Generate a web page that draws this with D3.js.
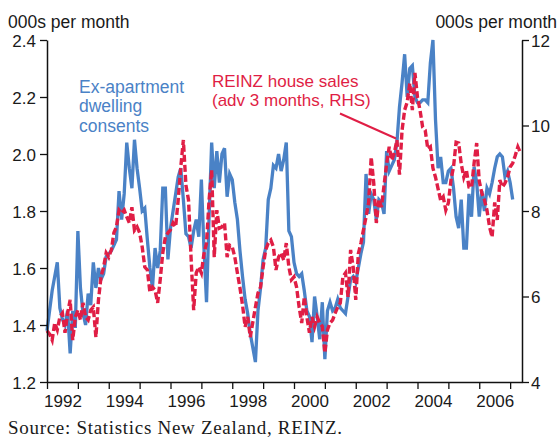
<!DOCTYPE html>
<html><head><meta charset="utf-8">
<script src="https://cdnjs.cloudflare.com/ajax/libs/d3/7.8.5/d3.min.js"></script>
<style>
body{margin:0;background:#fff;}
svg{display:block;}
</style></head><body>
<script>
// ---- data ----
const startYear = 1992;           // first month: Jan 1992, monthly data
const consents = [ // Ex-apartment dwelling consents, 000s per month (LHS)
1.38,1.45,1.52,1.57,1.62,1.46,1.42,1.40,1.45,1.30,
1.45,1.39,1.73,1.53,1.44,1.40,1.51,1.47,1.62,1.53,
1.60,1.56,1.58,1.64,1.65,1.66,1.68,1.70,1.87,1.77,
1.86,2.04,1.95,1.88,2.05,1.95,1.88,1.80,1.81,1.70,
1.60,1.53,1.67,1.60,1.66,1.88,1.88,1.63,1.74,1.80,
1.86,1.92,1.95,1.84,1.72,1.71,1.67,1.73,1.77,1.71,
1.91,1.67,1.48,1.78,2.04,1.88,2.01,1.90,2.00,2.02,
1.85,1.93,1.91,1.83,1.77,1.66,1.57,1.49,1.44,1.37,
1.32,1.27,1.45,1.53,1.63,1.67,1.84,1.88,1.96,1.95,
2.00,1.94,1.98,2.04,1.73,1.71,1.62,1.58,1.57,1.58,
1.52,1.45,1.43,1.34,1.50,1.43,1.35,1.48,1.28,1.45,
1.48,1.45,1.46,1.49,1.46,1.45,1.44,1.50,1.56,1.57,
1.55,1.60,1.65,1.69,1.93,1.79,1.86,1.84,1.77,1.84,
1.83,1.79,2.01,1.94,1.96,1.98,2.04,2.165,2.25,2.35,
2.20,2.30,2.31,2.20,2.18,2.18,2.19,2.19,2.18,2.32,
2.40,2.12,1.95,1.99,1.90,1.90,1.94,1.95,1.88,1.78,
1.74,1.84,1.67,1.67,1.86,1.78,1.955,1.90,1.78,1.87,
1.80,1.88,1.86,1.90,1.95,1.99,2.00,1.99,1.92,1.94,
1.90,1.84];
const houseSales = [ // REINZ house sales, adv 3 months, 000s per month (RHS)
5.20,5.12,4.98,5.38,5.22,5.52,5.61,5.15,5.61,5.92,
4.98,5.52,5.68,5.45,5.85,5.52,5.45,5.68,5.75,5.05,
5.92,6.46,6.69,7.02,6.92,7.09,7.49,7.63,8.02,7.95,
8.02,7.86,7.72,8.09,7.55,7.63,7.49,7.16,6.69,6.62,
6.10,6.22,6.15,5.85,6.39,7.02,7.39,7.49,7.56,7.72,
7.63,8.26,9.03,9.66,8.60,8.26,6.90,5.68,6.55,6.69,
6.55,7.00,7.25,8.26,8.96,6.92,8.02,7.60,7.63,7.72,
6.92,7.20,7.16,6.92,6.55,6.20,5.80,5.29,5.52,5.05,
5.40,5.75,6.08,6.22,6.69,7.09,7.25,7.32,7.16,6.62,
6.92,7.02,6.85,7.25,6.69,6.39,6.46,6.22,5.75,5.38,
5.99,5.52,5.15,5.52,5.29,5.52,5.38,5.30,4.68,5.22,
5.38,5.45,5.61,5.75,5.85,6.46,6.55,5.99,7.09,6.69,
5.92,7.00,7.25,7.56,7.86,8.19,9.26,8.65,7.72,8.26,
8.09,8.60,9.10,9.50,9.19,9.36,9.66,8.85,9.89,10.36,
10.55,10.99,10.36,11.23,10.66,10.35,9.96,9.89,9.45,9.50,
9.00,8.79,8.52,8.25,8.33,8.02,8.19,8.72,9.03,9.61,
9.59,9.10,8.79,8.96,8.56,8.55,9.12,9.59,8.70,8.42,
8.26,8.02,7.63,7.39,8.20,7.79,8.72,8.56,8.65,8.79,
9.03,9.12,9.30,9.50,9.36];
const leftTicks  = [1.2,1.4,1.6,1.8,2.0,2.2,2.4];
const rightTicks = [4,6,8,10,12];
const yearTicks  = [1992,1993,1994,1995,1996,1997,1998,1999,2000,2001,2002,2003,2004,2005,2006,2007];
const yearLabels = [1992,1994,1996,1998,2000,2002,2004,2006];
const unitLabel = "000s per month";
const blueLabel = ["Ex-apartment","dwelling","consents"];
const redLabel  = ["REINZ house sales","(adv 3 months, RHS)"];
const sourceText = "Source: Statistics New Zealand, REINZ.";

// ---- layout ----
const W = 559, H = 440;
const L = 47, R = 522, T = 40, B = 382;
const BLUE = "#4a82c6", RED = "#e01e45";
const SANS = "'Liberation Sans', Arial, sans-serif";
const SERIF = "'Liberation Serif', 'Times New Roman', serif";

const svg = d3.select("body").append("svg").attr("width", W).attr("height", H);

const x = d3.scaleLinear().domain([1992, 1992 + 475/30.875]).range([L, R]);
const yL = d3.scaleLinear().domain([1.2, 2.4]).range([B, T]);
const yR = d3.scaleLinear().domain([4, 12]).range([B, T]);

const t = i => startYear + i/12;

// lines
const lineL = d3.line().x((d,i)=>x(t(i))).y(d=>yL(d));
const lineR = d3.line().x((d,i)=>x(t(i))).y(d=>yR(d));

svg.append("path").datum(consents).attr("d", lineL)
  .attr("fill","none").attr("stroke",BLUE).attr("stroke-width",3.3);
svg.append("path").datum(houseSales).attr("d", lineR)
  .attr("fill","none").attr("stroke",RED).attr("stroke-width",3.4)
  .attr("stroke-dasharray","7,3");

// axes
function styleAxis(g){
  g.selectAll("path.domain").attr("stroke","#111").attr("stroke-width",1.5);
  g.selectAll(".tick line").attr("stroke","#111").attr("stroke-width",1.3);
  g.selectAll("text").attr("font-family",SANS).attr("font-size",17).attr("fill","#1a1a1a");
}
const gl = svg.append("g").attr("transform",`translate(${L},0)`).attr("font-family",SANS)
  .call(d3.axisLeft(yL).tickValues(leftTicks).tickFormat(d3.format(".1f")).tickSize(7).tickSizeOuter(0).tickPadding(4));
styleAxis(gl);
gl.selectAll("text").attr("dy","0.36em");
const gr = svg.append("g").attr("transform",`translate(${R},0)`).attr("font-family",SANS)
  .call(d3.axisRight(yR).tickValues(rightTicks).tickFormat(d3.format("d")).tickSize(7).tickSizeOuter(0).tickPadding(2));
styleAxis(gr);
gr.selectAll("text").attr("dy","0.36em");
const gb = svg.append("g").attr("transform",`translate(0,${B})`)
  .call(d3.axisBottom(x).tickValues(yearTicks).tickFormat("").tickSize(7).tickSizeOuter(0));
styleAxis(gb);
const gbl = svg.append("g").attr("transform",`translate(0,${B})`).attr("font-family",SANS)
  .call(d3.axisBottom(x).tickValues(yearLabels.map(v=>v+0.5)).tickFormat(d=>String(Math.floor(d))).tickSize(0));
gbl.select("path.domain").remove();
styleAxis(gbl);
gbl.selectAll("text").attr("dy",null).attr("y",25);

// unit labels
svg.append("text").attr("x",8).attr("y",27.5).attr("font-family",SANS).attr("font-size",17.5).attr("fill","#1a1a1a").text(unitLabel);
svg.append("text").attr("x",557).attr("y",27.5).attr("text-anchor","end").attr("font-family",SANS).attr("font-size",17.5).attr("fill","#1a1a1a").text(unitLabel);

// series labels
blueLabel.forEach((s,i)=>{
  svg.append("text").attr("x",79).attr("y",92.5+i*19.5).attr("font-family",SANS).attr("font-size",17.5).attr("fill",BLUE).text(s);
});
redLabel.forEach((s,i)=>{
  svg.append("text").attr("x",212).attr("y",86.5+i*19.5).attr("font-family",SANS).attr("font-size",17).attr("fill",RED)
    .text(s);
});
svg.append("line").attr("x1",340).attr("y1",113.5).attr("x2",396).attr("y2",138.5)
  .attr("stroke",RED).attr("stroke-width",2);

// source
svg.append("text").attr("x",8).attr("y",434).attr("font-family",SERIF)
  .attr("font-size",19).attr("letter-spacing",0.7).attr("fill","#1a1a1a").text(sourceText);
</script>
</body></html>
